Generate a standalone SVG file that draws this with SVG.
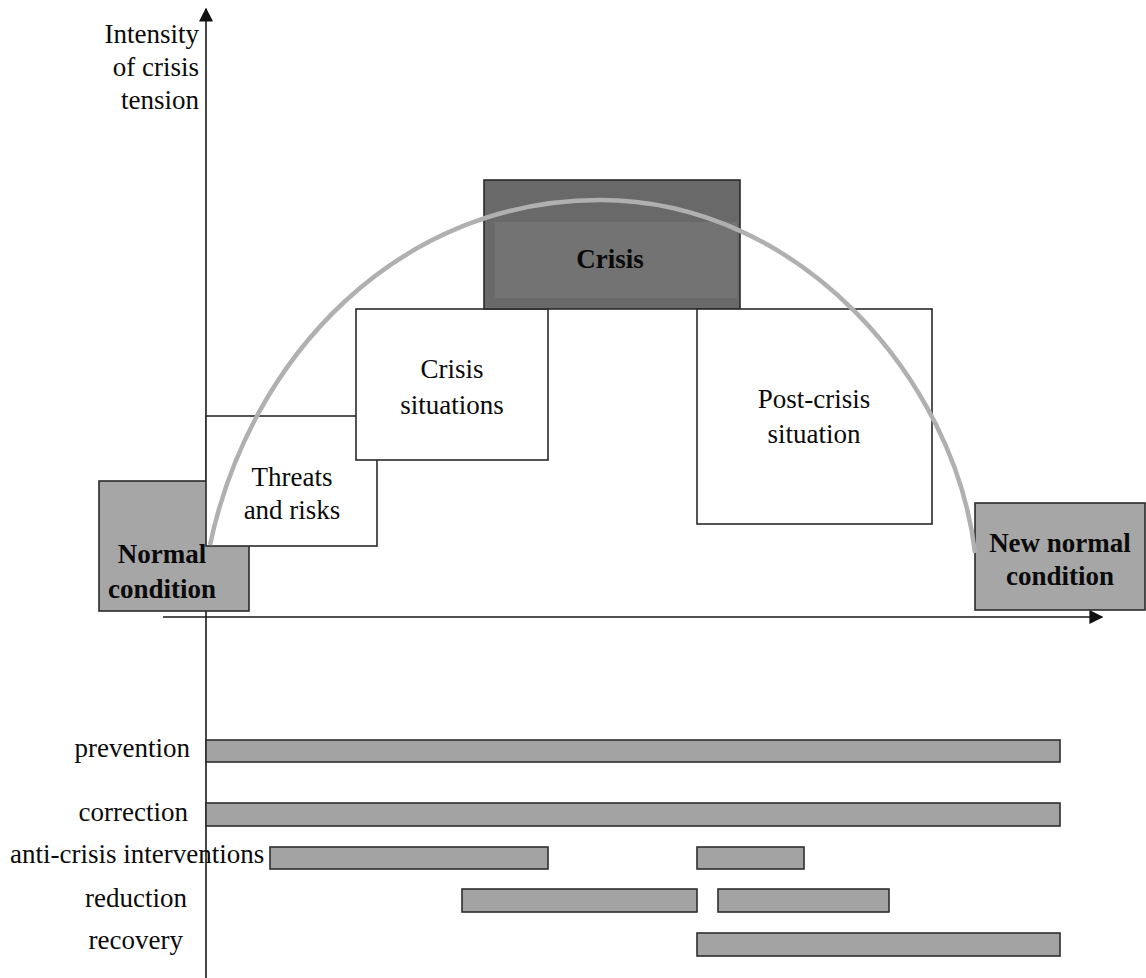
<svg xmlns="http://www.w3.org/2000/svg" width="1146" height="978" viewBox="0 0 1146 978">
<style>
  text { font-family: "Liberation Serif", "Times New Roman", serif; font-size: 27px; fill: #0a0a0a; }
  .b { font-weight: bold; }
  .m { text-anchor: middle; }
  .r { text-anchor: end; }
  .box { stroke: #2a2a2a; stroke-width: 1.6; }
  .white { fill: #ffffff; }
  .grey { fill: #a6a6a6; }
  .dark { fill: #696969; }
  .bar { fill: #a3a3a3; stroke: #2e2e2e; stroke-width: 1.6; }
  .axis { stroke: #1a1a1a; stroke-width: 1.6; fill: none; }
</style>
<defs>
  <marker id="arr" viewBox="0 0 10 10" refX="9" refY="5" markerWidth="14" markerHeight="14" markerUnits="userSpaceOnUse" orient="auto">
    <path d="M0,0 L10,5 L0,10 z" fill="#111"/>
  </marker>
</defs>
<rect width="1146" height="978" fill="#ffffff"/>

<g id="axes">
  <line class="axis" x1="206" y1="978" x2="206" y2="9" marker-end="url(#arr)"/>
  <line class="axis" x1="163" y1="617" x2="1102" y2="617" marker-end="url(#arr)"/>
</g>

<g id="axis-label">
  <text class="r" x="199" y="43">Intensity</text>
  <text class="r" x="199" y="76">of crisis</text>
  <text class="r" x="199" y="109">tension</text>
</g>

<g id="normal-condition">
  <rect class="box grey" x="99" y="481" width="150" height="130"/>
  <text class="b m" x="162" y="563">Normal</text>
  <text class="b m" x="162" y="598">condition</text>
</g>

<g id="threats-and-risks">
  <rect class="box white" x="206" y="416" width="171" height="130"/>
  <text class="m" x="292" y="486">Threats</text>
  <text class="m" x="292" y="519">and risks</text>
</g>

<g id="crisis-situations">
  <rect class="box white" x="356" y="309" width="192" height="151"/>
  <text class="m" x="452" y="378">Crisis</text>
  <text class="m" x="452" y="414">situations</text>
</g>

<g id="crisis">
  <rect class="box dark" x="484" y="180" width="256" height="129"/>
  <rect x="495" y="222" width="242" height="76" fill="#737373"/>
  <text class="b m" x="610" y="268">Crisis</text>
</g>

<g id="post-crisis-situation">
  <rect class="box white" x="697" y="309" width="235" height="215"/>
  <text class="m" x="814" y="408">Post-crisis</text>
  <text class="m" x="814" y="443">situation</text>
</g>

<g id="new-normal-condition">
  <rect class="box grey" x="975" y="503" width="170" height="107"/>
  <text class="b m" x="1060" y="552">New normal</text>
  <text class="b m" x="1060" y="585">condition</text>
</g>

<g id="connectors">
  <path d="M210,545 C250,355 400,200 600,200 C800,200 955,380 975,553" fill="none" stroke="#b0b0b0" stroke-width="4.5"/>
</g>

<g id="prevention">
  <text class="r" x="190" y="757">prevention</text>
  <rect class="bar" x="206" y="740" width="854" height="22"/>
</g>
<g id="correction">
  <text class="r" x="188" y="821">correction</text>
  <rect class="bar" x="206" y="803" width="854" height="23"/>
</g>
<g id="anti-crisis-interventions">
  <text x="10" y="863">anti-crisis interventions</text>
  <rect class="bar" x="270" y="847" width="278" height="22"/>
  <rect class="bar" x="697" y="847" width="107" height="22"/>
</g>
<g id="reduction">
  <text class="r" x="187" y="907">reduction</text>
  <rect class="bar" x="462" y="889" width="235" height="23"/>
  <rect class="bar" x="718" y="889" width="171" height="23"/>
</g>
<g id="recovery">
  <text class="r" x="183" y="949">recovery</text>
  <rect class="bar" x="697" y="933" width="363" height="23"/>
</g>
</svg>
